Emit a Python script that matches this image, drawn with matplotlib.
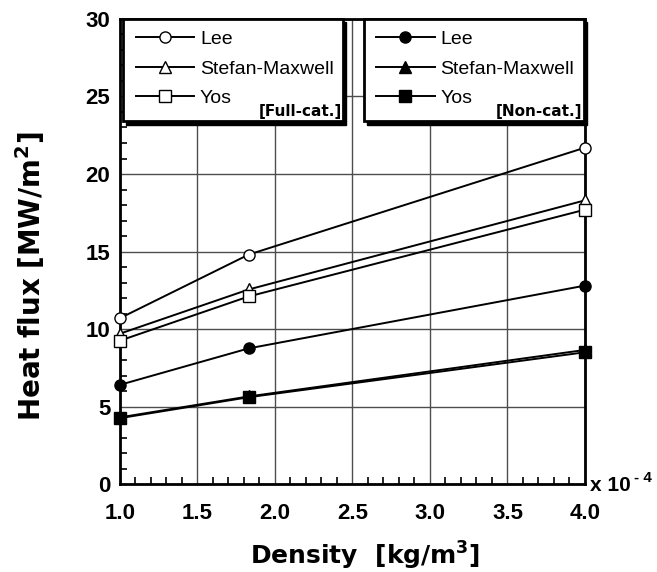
import matplotlib.pyplot as plt
from matplotlib.patches import Rectangle

plt.rcParams['font.family'] = ['Liberation Sans', 'DejaVu Sans']

# density in units of 1e-4 kg/m^3
density = [1.0, 1.83, 4.0]

# heat flux [MW/m^2]
lee_full = [10.7, 14.8, 21.7]
sm_full = [9.7, 12.55, 18.3]
yos_full = [9.25, 12.1, 17.7]
lee_non = [6.4, 8.75, 12.8]
sm_non = [4.3, 5.65, 8.65]
yos_non = [4.25, 5.6, 8.5]

labels = ['Lee', 'Stefan-Maxwell', 'Yos']
xticks = [1.0, 1.5, 2.0, 2.5, 3.0, 3.5, 4.0]
yticks = [0, 5, 10, 15, 20, 25, 30]

fig = plt.figure(figsize=(6.57, 5.72), dpi=100)
ax = fig.add_axes([0.1826, 0.1538, 0.7078, 0.813])

ms = 8
lw = 1.4
full_series = [(lee_full, 'o'), (sm_full, '^'), (yos_full, 's')]
non_series = [(lee_non, 'o'), (sm_non, '^'), (yos_non, 's')]

full_lines = []
for vals, m in full_series:
    l, = ax.plot(density, vals, '-', color='black', lw=lw, marker=m, ms=ms,
                 mfc='white', mec='black', mew=1.0, clip_on=False, zorder=5)
    full_lines.append(l)
non_lines = []
for vals, m in non_series:
    l, = ax.plot(density, vals, '-', color='black', lw=lw, marker=m, ms=ms,
                 mfc='black', mec='black', clip_on=False, zorder=5)
    non_lines.append(l)

ax.set_xlim(1.0, 4.0)
ax.set_ylim(0, 30)
ax.set_xticks(xticks)
ax.set_xticklabels(['%.1f' % v for v in xticks])
ax.set_yticks(yticks)
ax.set_xticks([1.0 + 0.1 * i for i in range(31)], minor=True)
ax.set_yticks(range(31), minor=True)
ax.tick_params(which='both', direction='in', labelsize=16, width=1.2)
ax.tick_params(which='major', length=0)
ax.tick_params(axis='x', which='major', pad=14)
ax.tick_params(axis='y', which='major', pad=7)
ax.tick_params(which='minor', length=5)
for lab in ax.get_xticklabels() + ax.get_yticklabels():
    lab.set_fontweight('bold')
ax.grid(True, which='major', color='0.3', lw=1.0)
for s in ax.spines.values():
    s.set_linewidth(2)

ax.set_xlabel('Density  [kg/m$^\\mathbf{3}$]', fontsize=18, fontweight='bold',
              family='DejaVu Sans')
ax.set_ylabel('Heat flux [MW/m$^\\mathbf{2}$]', fontsize=20, fontweight='bold',
              family='DejaVu Sans')
ax.xaxis.set_label_coords(0.527, -0.12)
ax.yaxis.set_label_coords(-0.157, 0.447)

ax.text(1.01, -0.003, 'x 10', transform=ax.transAxes, fontsize=15, fontweight='bold',
        ha='left', va='center')
ax.text(1.105, 0.014, '- 4', transform=ax.transAxes, fontsize=11, fontweight='bold',
        ha='left', va='center')

# legend boxes with shadow
for x0, w in [(0.006, 0.474), (0.525, 0.472)]:
    sh = Rectangle((x0 + 0.007, 0.78 - 0.007), w, 0.22, transform=ax.transAxes,
                   facecolor='black', edgecolor='black', zorder=8, clip_on=False)
    ax.add_patch(sh)
    bx = Rectangle((x0, 0.78), w, 0.22, transform=ax.transAxes,
                   facecolor='white', edgecolor='black', lw=2, zorder=9, clip_on=False)
    ax.add_patch(bx)

leg_kw = dict(frameon=False, fontsize=14, handlelength=3.0, handletextpad=0.3,
              labelspacing=0.6, borderpad=0, borderaxespad=0, loc='upper left')
leg1 = ax.legend(full_lines, labels, bbox_to_anchor=(0.034, 0.975), **leg_kw)
leg1.set_zorder(10)
ax.add_artist(leg1)
leg2 = ax.legend(non_lines, labels, bbox_to_anchor=(0.551, 0.975), **leg_kw)
leg2.set_zorder(10)

ax.text(0.478, 0.802, '[Full-cat.]', transform=ax.transAxes, fontsize=11,
        fontweight='bold', family='DejaVu Sans', ha='right', va='center', zorder=11)
ax.text(0.995, 0.802, '[Non-cat.]', transform=ax.transAxes, fontsize=11,
        fontweight='bold', family='DejaVu Sans', ha='right', va='center', zorder=11)

fig.savefig('out.png', dpi=100)
